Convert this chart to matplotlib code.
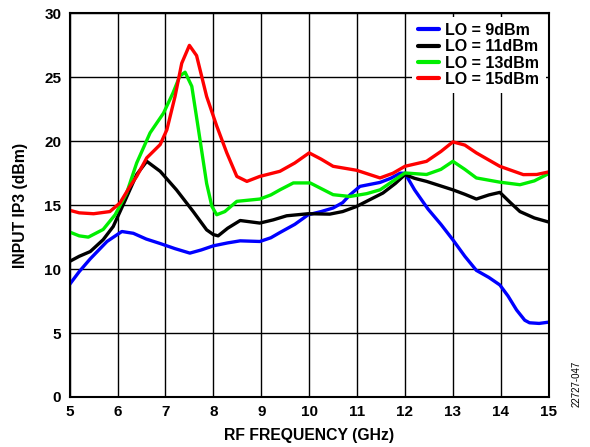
import numpy as np
import matplotlib
matplotlib.use("Agg")
import matplotlib.pyplot as plt

plt.rcParams['font.family'] = ['Liberation Sans', 'DejaVu Sans']

# LO = 9dBm
x_lo9 = [5.0, 5.2, 5.43, 5.78, 6.09, 6.33, 6.6, 6.89, 7.2, 7.51, 7.75, 8.0,
         8.3, 8.56, 8.97, 9.2, 9.39, 9.7, 9.98, 10.25, 10.5, 10.7, 10.85,
         11.06, 11.48, 11.7, 11.9, 12.0, 12.2, 12.48, 12.75, 13.0, 13.25,
         13.49, 13.75, 13.98, 14.15, 14.33, 14.5, 14.6, 14.8, 15.0]
y_lo9 = [8.8, 9.8, 10.8, 12.16, 12.94, 12.8, 12.35, 12.0, 11.6, 11.25,
         11.5, 11.82, 12.05, 12.21, 12.16, 12.45, 12.86, 13.5, 14.25, 14.5,
         14.78, 15.2, 15.8, 16.47, 16.78, 17.1, 17.5, 17.5, 16.2, 14.7, 13.5,
         12.29, 11.0, 9.9, 9.35, 8.76, 7.9, 6.8, 6.0, 5.8, 5.75, 5.85]

# LO = 11dBm
x_lo11 = [5.0, 5.2, 5.43, 5.7, 5.91, 6.15, 6.4, 6.61, 6.89, 7.23, 7.58,
          7.86, 8.0, 8.1, 8.3, 8.56, 8.97, 9.25, 9.53, 9.98, 10.43, 10.7,
          10.99, 11.25, 11.54, 11.8, 12.0, 12.2, 12.45, 13.0, 13.25, 13.49,
          13.75, 13.98, 14.2, 14.4, 14.7, 15.0]
y_lo11 = [10.6, 11.0, 11.37, 12.3, 13.33, 15.3, 17.4, 18.43, 17.65, 16.2,
          14.5, 13.07, 12.7, 12.6, 13.2, 13.8, 13.6, 13.85, 14.17, 14.33,
          14.3, 14.5, 14.9, 15.4, 15.95, 16.7, 17.39, 17.1, 16.86, 16.2, 15.85,
          15.48, 15.8, 16.0, 15.2, 14.5, 14.0, 13.68]

# LO = 13dBm
x_lo13 = [5.0, 5.2, 5.39, 5.7, 5.95, 6.19, 6.4, 6.68, 6.96, 7.16, 7.3, 7.41,
          7.55, 7.69, 7.86, 7.97, 8.07, 8.24, 8.49, 8.97, 9.2, 9.39, 9.67,
          10.02, 10.25, 10.5, 10.85, 11.2, 11.48, 12.0, 12.45, 12.75, 13.0,
          13.25, 13.49, 13.98, 14.4, 14.7, 15.0]
y_lo13 = [12.9, 12.6, 12.5, 13.1, 14.25, 15.95, 18.3, 20.66, 22.2, 23.8,
          25.1, 25.4, 24.3, 20.9, 16.7, 14.9, 14.25, 14.5, 15.3, 15.48, 15.8,
          16.2, 16.74, 16.74, 16.3, 15.82, 15.68, 15.9, 16.2, 17.52, 17.4,
          17.8, 18.43, 17.8, 17.13, 16.8, 16.6, 16.9, 17.47]

# LO = 15dBm
x_lo15 = [5.0, 5.2, 5.5, 5.84, 6.05, 6.26, 6.4, 6.61, 6.89, 7.03, 7.2, 7.34,
          7.5, 7.65, 7.86, 8.07, 8.28, 8.49, 8.7, 8.97, 9.39, 9.7, 10.0,
          10.25, 10.5, 10.99, 11.48, 11.75, 12.0, 12.45, 12.75, 13.0, 13.25,
          13.49, 13.98, 14.47, 14.75, 15.0]
y_lo15 = [14.6, 14.4, 14.33, 14.5, 15.17, 16.47, 17.25, 18.7, 19.74, 20.9,
          23.5, 26.1, 27.5, 26.7, 23.5, 21.2, 19.1, 17.25, 16.86, 17.25,
          17.65, 18.3, 19.09, 18.6, 18.04, 17.73, 17.13, 17.5, 18.04, 18.43,
          19.2, 19.95, 19.7, 19.09, 18.04, 17.39, 17.4, 17.6]

x_ticks = list(range(5, 16))
y_ticks = list(range(0, 31, 5))

fig = plt.figure(figsize=(5.9, 4.47), dpi=100)
ax = fig.add_axes([0.118, 0.112, 0.812, 0.858])

kw = dict(lw=2.4, solid_joinstyle='round', solid_capstyle='round')
ax.plot(x_lo9, y_lo9, color='#0000ff', label='LO = 9dBm', **kw)
ax.plot(x_lo11, y_lo11, color='black', label='LO = 11dBm', **kw)
ax.plot(x_lo13, y_lo13, color='#00ee00', label='LO = 13dBm', **kw)
ax.plot(x_lo15, y_lo15, color='#ff0000', label='LO = 15dBm', **kw)

ax.set_xlim(5, 15)
ax.set_ylim(0, 30)
ax.set_xticks(x_ticks)
ax.set_yticks(y_ticks)
ax.grid(True, color='black', lw=1.0)
ax.set_axisbelow(True)
ax.tick_params(length=0, pad=6, labelsize=11)
for lab in ax.get_xticklabels() + ax.get_yticklabels():
    lab.set_fontweight('bold')
for sp in ax.spines.values():
    sp.set_linewidth(1.5)

ax.set_xlabel('RF FREQUENCY (GHz)', fontsize=11.3, fontweight='bold', labelpad=6)
ax.set_ylabel('INPUT IP3 (dBm)', fontsize=11.3, fontweight='bold', labelpad=12)

leg = ax.legend(loc='upper right', prop={'weight': 'bold', 'size': 11.5},
                frameon=True, fancybox=False, framealpha=1, edgecolor='none',
                handlelength=1.3, labelspacing=0.08, borderpad=0.4,
                handletextpad=0.4, borderaxespad=0.2)
for h in leg.get_lines():
    h.set_linewidth(3)

fig.text(0.978, 0.09, '22727-047', rotation=90, fontsize=7, ha='center', va='bottom')

fig.savefig('out.png', dpi=100)
